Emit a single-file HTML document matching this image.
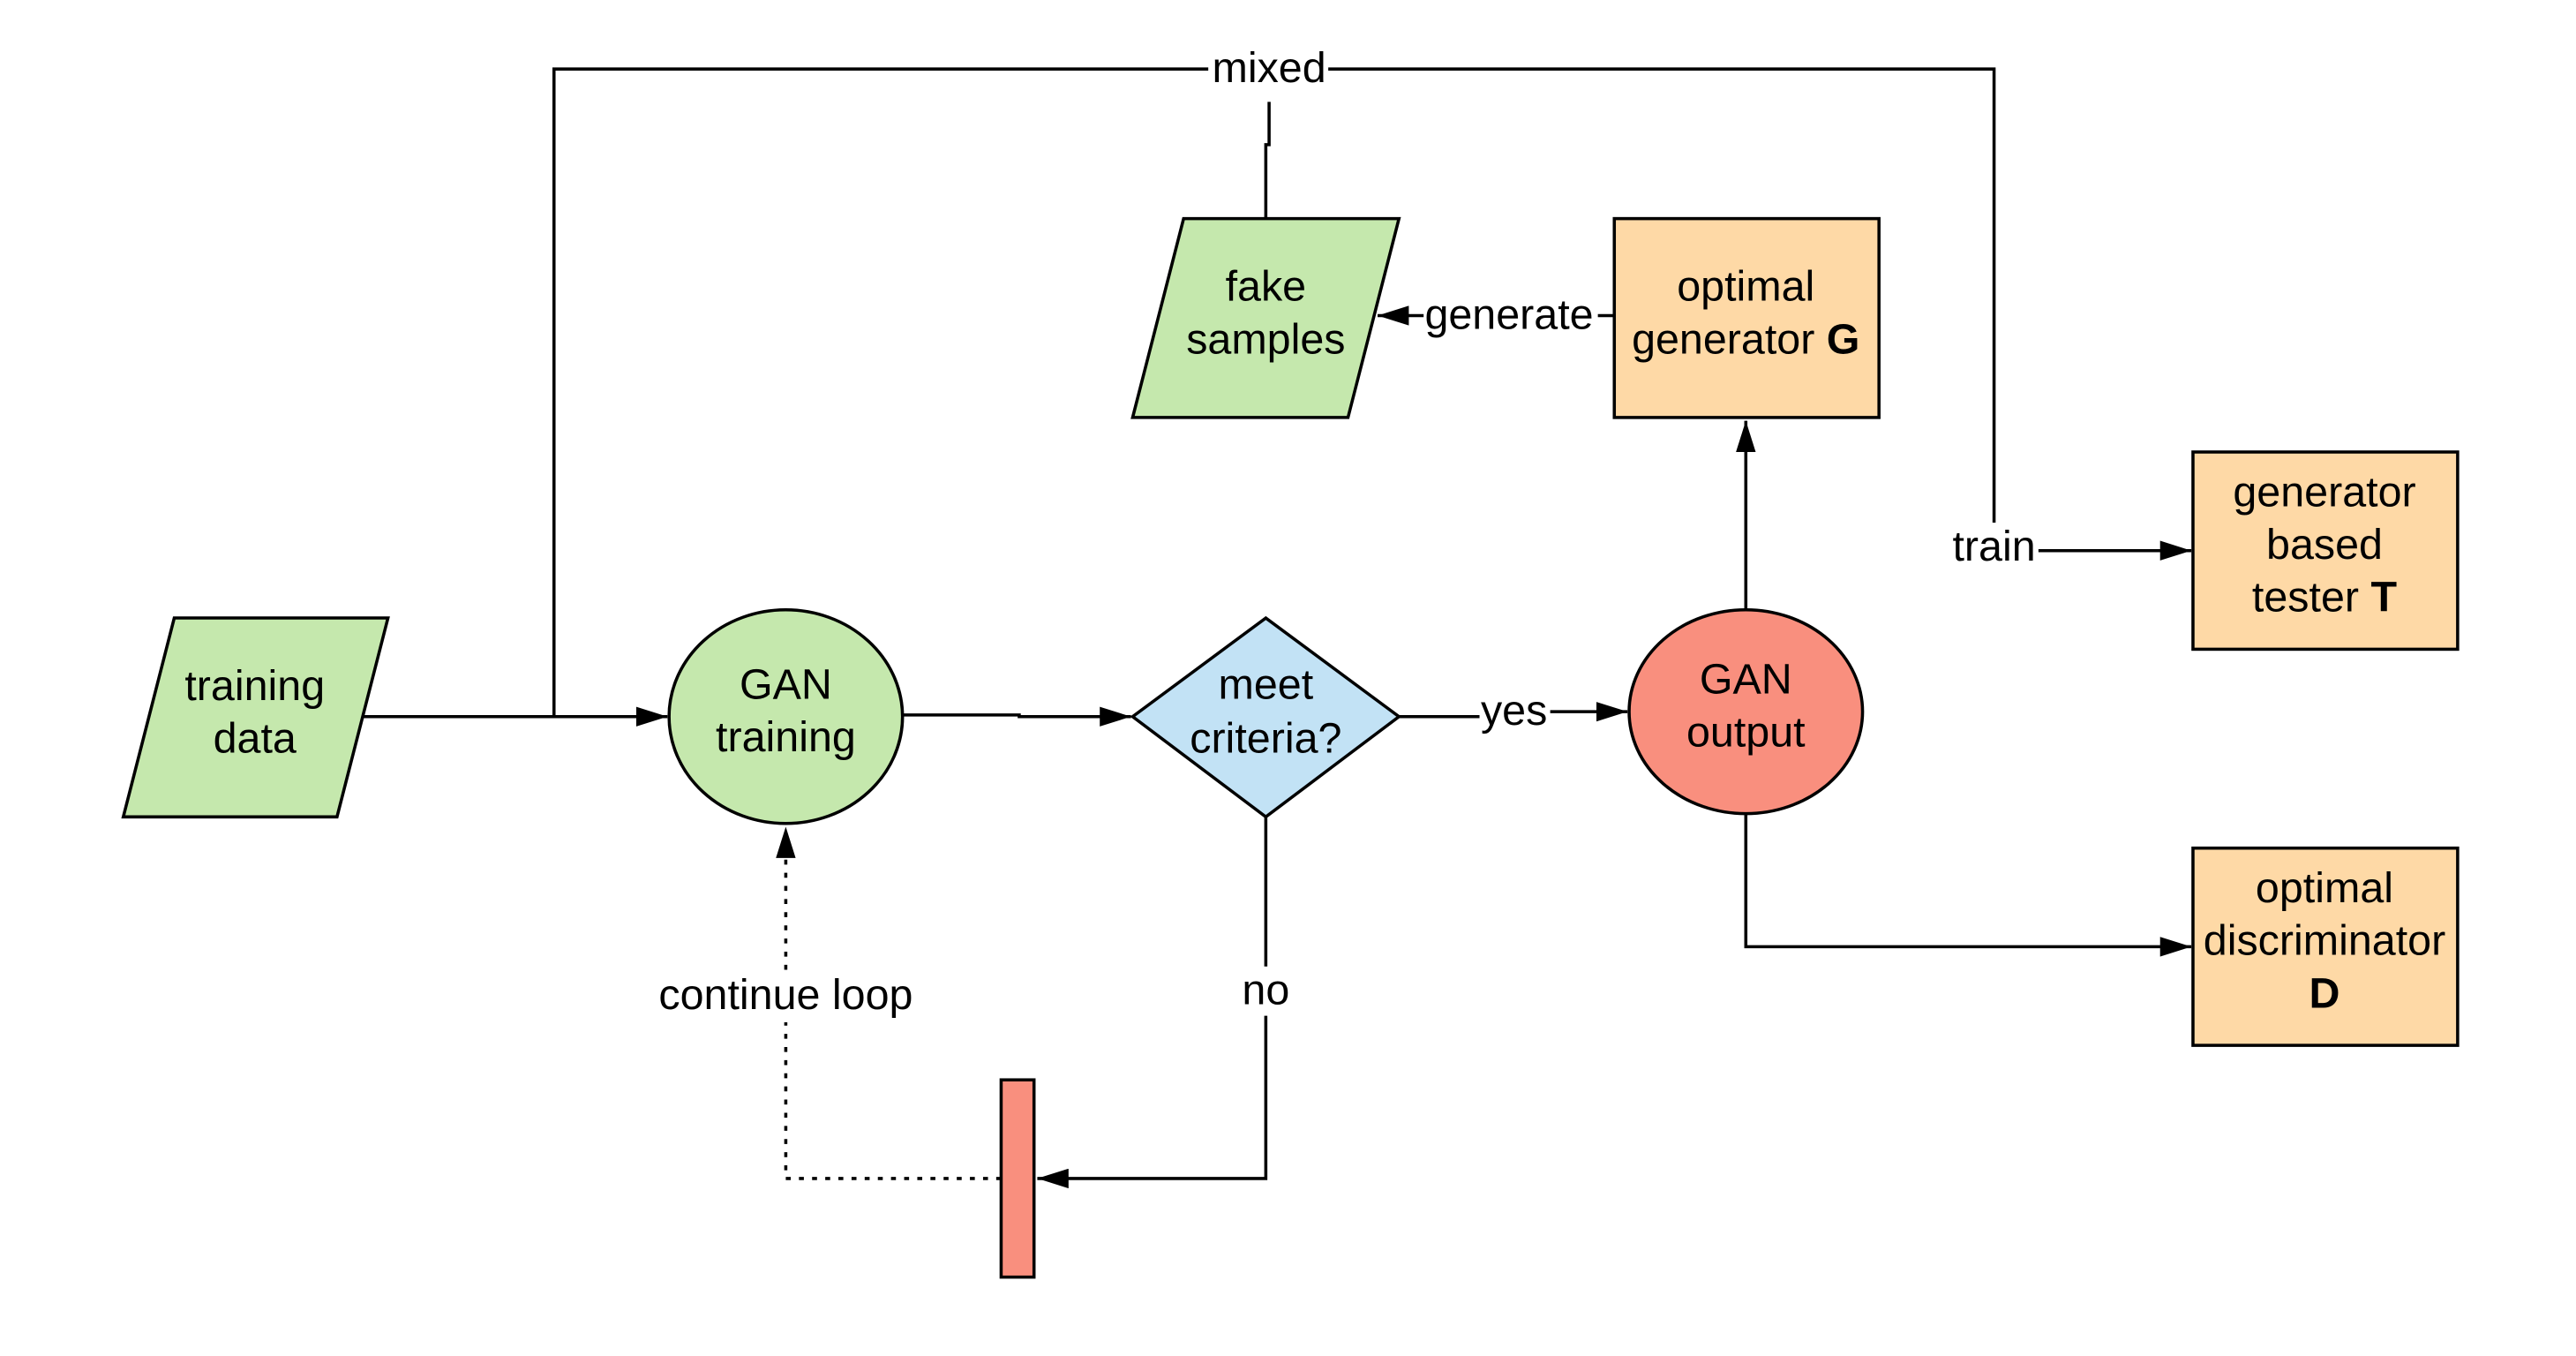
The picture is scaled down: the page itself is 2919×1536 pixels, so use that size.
<!DOCTYPE html>
<html><head><meta charset="utf-8"><style>
html,body{margin:0;padding:0;background:#fff;}
svg{display:block;}
text{font-family:"Liberation Sans",sans-serif;font-size:26px;fill:#000;text-anchor:middle;}
</style></head><body>
<svg width="2919" height="1536" viewBox="0 0 1567 825" preserveAspectRatio="none" xmlns="http://www.w3.org/2000/svg">
<defs>
<marker id="a" markerWidth="20" markerHeight="12" refX="19" refY="6" orient="auto" markerUnits="userSpaceOnUse">
<path d="M0,0 L19,6 L0,12 Z" fill="#000"/></marker>
</defs>
<g fill="none" stroke="#000" stroke-width="1.9">
<polyline points="337,436 337,42 735,42"/>
<polyline points="808,42 1213,42 1213,318"/>
<polyline points="772,62 772,88 770,88 770,133"/>
<line x1="1240" y1="335" x2="1333" y2="335" marker-end="url(#a)"/>
<line x1="982" y1="192" x2="972" y2="192"/>
<line x1="866" y1="192" x2="838" y2="192" marker-end="url(#a)"/>
<line x1="220" y1="436" x2="406" y2="436" marker-end="url(#a)"/>
<polyline points="549,435 620,435 620,436 688,436" marker-end="url(#a)"/>
<polyline points="851,436 900,436"/>
<polyline points="943,433 990,433" marker-end="url(#a)"/>
<line x1="1062" y1="371" x2="1062" y2="256" marker-end="url(#a)"/>
<polyline points="1062,495 1062,576 1333,576" marker-end="url(#a)"/>
<line x1="770" y1="497" x2="770" y2="588"/>
<polyline points="770,618 770,717 631,717" marker-end="url(#a)"/>
<polyline points="609,717 478,717 478,622" stroke-dasharray="3,5"/>
<line x1="478" y1="590" x2="478" y2="503" stroke-dasharray="3,5" marker-end="url(#a)"/>
</g>
<g stroke="#000" stroke-width="1.9">
<polygon points="106,376 236,376 205,497 75,497" fill="#c5e8ad"/>
<polygon points="720,133 851,133 820,254 689,254" fill="#c5e8ad"/>
<rect x="982" y="133" width="161" height="121" fill="#fed9a6"/>
<ellipse cx="478" cy="436" rx="71" ry="65" fill="#c5e8ad"/>
<polygon points="770,376 851,436 770,497 689,436" fill="#c2e2f5"/>
<ellipse cx="1062" cy="433" rx="71" ry="62" fill="#f98f7e"/>
<rect x="1334" y="275" width="161" height="120" fill="#fed9a6"/>
<rect x="1334" y="516" width="161" height="120" fill="#fed9a6"/>
<rect x="609" y="657" width="20" height="120" fill="#f98f7e"/>
</g>
<text x="772" y="50">mixed</text>
<text x="1213" y="341">train</text>
<text x="918" y="200">generate</text>
<text x="921" y="441">yes</text>
<text x="770" y="611">no</text>
<text x="478" y="614">continue loop</text>
<text x="155" y="426">training</text><text x="155" y="458">data</text>
<text x="770" y="183">fake</text><text x="770" y="215">samples</text>
<text x="1062" y="183">optimal</text><text x="1062" y="215">generator <tspan font-weight="bold">G</tspan></text>
<text x="478" y="425">GAN</text><text x="478" y="457">training</text>
<text x="770" y="425">meet</text><text x="770" y="458">criteria?</text>
<text x="1062" y="422">GAN</text><text x="1062" y="454">output</text>
<text x="1414" y="308">generator</text><text x="1414" y="340">based</text><text x="1414" y="372">tester <tspan font-weight="bold">T</tspan></text>
<text x="1414" y="549">optimal</text><text x="1414" y="581">discriminator</text><text x="1414" y="613" font-weight="bold">D</text>
</svg>
</body></html>
